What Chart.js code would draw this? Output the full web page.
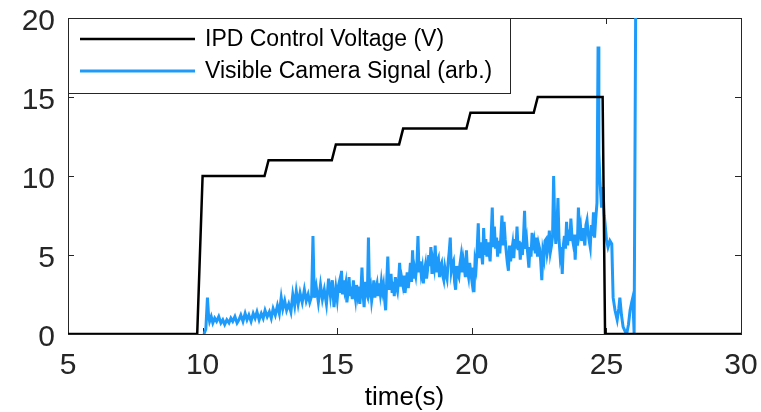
<!DOCTYPE html>
<html>
<head>
<meta charset="utf-8">
<script src="https://cdn.jsdelivr.net/npm/chart.js@4/dist/chart.umd.min.js"></script>
<style>
    html, body { margin: 0; padding: 0; background: #fff; }
    #wrap { width: 761px; height: 412px; }
</style>
</head>
<body>
<div id="wrap"><canvas id="pulse-chart" width="761" height="412"></canvas></div>
<script>
// IPD control voltage: step profile (time s, volts)
var voltageTime = [5, 9.8, 10.0, 12.3, 12.45, 14.8, 14.95, 17.3, 17.45, 19.8, 19.95, 22.3, 22.45, 24.86, 24.95, 30];
var voltageValue = [0, 0, 10, 10, 11, 11, 12, 12, 13, 13, 14, 14, 15, 15, 0, 0];

// visible camera signal (time s, arb.)
var signalTime = [
    10.05, 10.12, 10.18, 10.22, 10.26, 10.32, 10.38, 10.45, 10.52, 10.6, 10.68, 10.75, 10.82, 10.9, 10.98,
    11.05, 11.12, 11.2, 11.28, 11.35, 11.42, 11.5, 11.58, 11.65, 11.72, 11.8, 11.88, 11.95,
    12.02, 12.1, 12.18, 12.25, 12.32, 12.4, 12.48, 12.55, 12.62, 12.7, 12.78, 12.85, 12.92, 12.98,
    13.05, 13.12, 13.2, 13.28, 13.35, 13.42, 13.48, 13.55, 13.62, 13.7, 13.78, 13.85, 13.92, 13.98,
    14.05, 14.1, 14.15, 14.22, 14.3, 14.38, 14.45, 14.52, 14.6, 14.68, 14.75, 14.82, 14.88, 14.95,
    15.00, 15.04, 15.08, 15.12, 15.16, 15.20, 15.24, 15.28, 15.32, 15.36,
    15.40, 15.44, 15.48, 15.52, 15.56, 15.60, 15.64, 15.68, 15.72, 15.76,
    15.80, 15.84, 15.88, 15.92, 15.96, 16.00, 16.04, 16.08, 16.12, 16.16,
    16.20, 16.24, 16.28, 16.32, 16.36, 16.40, 16.44, 16.48, 16.52, 16.56,
    16.60, 16.64, 16.68, 16.72, 16.76, 16.80, 16.84, 16.88, 16.92, 16.96,
    17.00, 17.04, 17.08, 17.12, 17.16, 17.20, 17.24, 17.28, 17.32, 17.36,
    17.40, 17.44, 17.48, 17.52, 17.56, 17.60, 17.64, 17.68, 17.72, 17.76,
    17.80, 17.84, 17.88, 17.92, 17.96, 18.00, 18.04, 18.08, 18.12, 18.16,
    18.20, 18.24, 18.28, 18.32, 18.36, 18.40, 18.44, 18.48, 18.52, 18.56,
    18.60, 18.64, 18.68, 18.72, 18.76, 18.80, 18.84, 18.88, 18.92, 18.96,
    19.00, 19.04, 19.08, 19.12, 19.16, 19.20, 19.24, 19.28, 19.32, 19.36,
    19.40, 19.44, 19.48, 19.52, 19.56, 19.60, 19.64, 19.68, 19.72, 19.76,
    19.80, 19.84, 19.88, 19.92, 19.96, 20.00, 20.04, 20.08, 20.12, 20.16,
    20.20, 20.24, 20.28, 20.32, 20.36, 20.40, 20.44, 20.48, 20.52, 20.56,
    20.60, 20.64, 20.68, 20.72, 20.76, 20.80, 20.84, 20.88, 20.92, 20.96,
    21.00, 21.04, 21.08, 21.12, 21.16, 21.20, 21.24, 21.28, 21.32, 21.36,
    21.40, 21.44, 21.48, 21.52, 21.56, 21.60, 21.64, 21.68, 21.72, 21.76,
    21.80, 21.84, 21.88, 21.92, 21.96, 22.00, 22.04, 22.08, 22.12, 22.16,
    22.20, 22.24, 22.28, 22.32, 22.36, 22.40, 22.44, 22.48, 22.52, 22.56,
    22.60, 22.64, 22.68, 22.72, 22.76, 22.80, 22.84, 22.88, 22.92, 22.96,
    23.00, 23.04, 23.08, 23.12, 23.16, 23.20, 23.24, 23.28, 23.32, 23.36,
    23.40, 23.44, 23.48, 23.52, 23.56, 23.60, 23.64, 23.68, 23.72, 23.76,
    23.80, 23.84, 23.88, 23.92, 23.96, 24.00, 24.04, 24.08, 24.12, 24.16,
    24.20, 24.24, 24.28, 24.32, 24.36, 24.40, 24.44, 24.48, 24.52, 24.56,
    24.6, 24.65, 24.69, 24.72, 24.76, 24.82, 24.87, 24.92, 24.95,
    25.0, 25.06, 25.13, 25.2, 25.25, 25.32, 25.4, 25.46, 25.5, 25.56, 25.62, 25.7, 25.76, 25.82, 25.88, 25.94, 25.98,
    26.03, 26.1
];
var signalValue = [
    0, 0.3, 2.3, 1.2, 0.8, 1.1, 0.7, 1.0, 0.8, 1.1, 0.7, 0.9, 0.6, 0.9, 0.7,
    1.0, 0.8, 1.1, 0.7, 0.9, 1.2, 0.8, 1.3, 0.9, 1.2, 0.8, 1.3, 1.0,
    1.4, 0.9, 1.3, 1.0, 1.5, 1.1, 1.4, 1.0, 1.6, 1.2, 1.8, 1.3, 2.3, 1.6,
    2.1, 1.5, 1.9, 1.4, 2.5, 1.8, 2.7, 1.9, 2.6, 2.0, 2.8, 2.1, 2.5, 2.0,
    2.4, 6.2, 2.3, 3.0, 2.0, 3.1, 2.2, 2.8, 1.9, 3.5, 2.4, 3.4, 1.7, 2.9,
    2.2, 3.0, 3.3, 2.6, 4.0, 2.5, 3.4, 2.8, 3.2, 2.0,
    2.6, 3.6, 2.4, 3.0, 2.2, 3.4, 2.7, 2.2, 3.1, 2.5,
    3.0, 1.9, 2.7, 4.2, 2.5, 1.7, 3.3, 2.6, 2.4, 6.1,
    2.7, 3.0, 2.1, 2.6, 3.4, 2.3, 2.9, 3.2, 2.4, 3.2,
    2.6, 3.3, 2.7, 3.1, 2.2, 1.5, 3.4, 4.9, 2.8, 3.3,
    3.8, 2.6, 3.3, 2.4, 3.6, 3.0, 2.7, 3.4, 4.5, 3.0,
    3.5, 3.1, 3.7, 2.6, 3.2, 3.9, 2.9, 3.6, 4.5, 3.3,
    5.3, 3.5, 4.1, 3.7, 4.4, 6.2, 3.9, 4.6, 3.8, 4.2,
    3.2, 4.0, 4.4, 3.5, 4.1, 5.0, 4.3, 5.5, 3.8, 4.6,
    4.2, 5.6, 3.9, 4.6, 4.8, 3.6, 4.3, 4.5, 3.7, 3.4,
    4.2, 3.8, 3.5, 4.5, 5.2, 6.1, 4.0, 4.4, 4.6, 3.3,
    2.8, 4.3, 3.8, 3.6, 4.4, 4.9, 3.9, 4.7, 4.2, 3.6,
    5.3, 4.0, 3.6, 4.5, 3.9, 3.4, 4.2, 2.65, 4.6, 4.2,
    5.4, 7.0, 4.8, 5.8, 5.2, 4.4, 6.7, 5.0, 6.0, 4.9,
    5.8, 5.2, 4.6, 6.2, 8.0, 5.5, 6.8, 5.4, 6.1, 4.9,
    5.9, 5.1, 6.2, 7.5, 5.6, 7.1, 6.0, 5.2, 4.5, 4.0,
    5.6, 4.6, 5.2, 5.7, 4.8, 6.0, 5.4, 6.8, 5.3, 5.9,
    4.7, 5.8, 5.0, 6.1, 7.8, 5.4, 5.9, 5.0, 4.2, 5.5,
    4.9, 6.4, 5.3, 5.8, 5.1, 6.1, 4.9, 5.7, 5.4, 4.6,
    3.4, 5.2, 4.8, 5.9, 6.0, 5.1, 5.5, 6.55, 5.2, 5.6,
    6.2, 10.0, 7.0, 5.7, 6.6, 8.6, 6.0, 5.0, 5.5, 3.8,
    5.6, 6.2, 5.4, 7.1, 5.6, 6.6, 5.9, 7.3, 6.2, 5.8,
    6.3, 4.7, 6.3, 5.6, 8.0, 6.4, 6.8, 5.9, 6.7, 6.1,
    5.6, 6.9, 7.2, 6.4, 5.9, 5.5, 6.9, 6.2, 7.7, 6.1,
    7.2, 8.3, 18.2, 11.5, 9.7, 8.0, 9.3, 7.5, 7.0,
    6.0, 5.5, 5.9, 5.7, 2.3, 1.5, 0.9, 1.6, 2.3, 1.2, 0.45, 0.15, 0.05, 0.6, 1.5, 2.0, 2.3,
    0.05, 25
];

var xTicks = [5, 10, 15, 20, 25, 30];
var yTicks = [0, 5, 10, 15, 20];

var black = 'rgba(0, 0, 0, 1)';
var blue = 'rgba(30, 155, 250, 1)';
var axisColor = '#262626';
var fontFamily = '"Liberation Sans", Arial, sans-serif';

function toPoints(xs, ys) {
    return xs.map(function (x, i) {
        return {x: x, y: ys[i]};
    });
}

// box frame with inward tick marks, like the original figure
var framePlugin = {
    id: 'frame',
    beforeDatasetsDraw: function (chart) {
        var ctx = chart.ctx;
        var area = chart.chartArea;
        var xs = chart.scales.x;
        var ys = chart.scales.y;
        var len = 6;

        ctx.save();
        ctx.strokeStyle = axisColor;
        ctx.lineWidth = 1;
        ctx.strokeRect(area.left + 0.5, area.top + 0.5, area.right - area.left, area.bottom - area.top);
        ctx.beginPath();
        xTicks.forEach(function (t) {
            var px = Math.round(xs.getPixelForValue(t)) + 0.5;
            ctx.moveTo(px, area.bottom);
            ctx.lineTo(px, area.bottom - len);
            ctx.moveTo(px, area.top);
            ctx.lineTo(px, area.top + len);
        });
        yTicks.forEach(function (t) {
            var py = Math.round(ys.getPixelForValue(t)) + 0.5;
            ctx.moveTo(area.left, py);
            ctx.lineTo(area.left + len, py);
            ctx.moveTo(area.right, py);
            ctx.lineTo(area.right - len, py);
        });
        ctx.stroke();
        ctx.restore();
    }
};

// legend box drawn inside the plot, top left
var legendPlugin = {
    id: 'boxLegend',
    afterDraw: function (chart) {
        var ctx = chart.ctx;
        var area = chart.chartArea;
        var left = area.left;
        var top = area.top;
        var width = 442;
        var height = 75;
        var rows = [top + 21, top + 53];

        ctx.save();
        ctx.fillStyle = '#fff';
        ctx.fillRect(left, top, width, height);
        ctx.strokeStyle = axisColor;
        ctx.lineWidth = 1;
        ctx.strokeRect(left + 0.5, top + 0.5, width, height);

        ctx.font = '23px ' + fontFamily;
        ctx.textBaseline = 'middle';
        ctx.textAlign = 'left';
        chart.data.datasets.forEach(function (ds, i) {
            var y = rows[i];
            ctx.strokeStyle = ds.borderColor;
            ctx.lineWidth = ds.borderWidth;
            ctx.beginPath();
            ctx.moveTo(left + 12, y);
            ctx.lineTo(left + 127, y);
            ctx.stroke();
            ctx.fillStyle = '#000';
            ctx.fillText(ds.label, left + 137, y + 1);
        });
        ctx.restore();
    }
};

var chart = new Chart(document.getElementById('pulse-chart'), {
    type: 'line',
    data: {
        datasets: [
            {
                label: 'IPD Control Voltage (V)',
                data: toPoints(voltageTime, voltageValue),
                borderColor: black,
                backgroundColor: black,
                borderWidth: 2.5,
                pointRadius: 0,
                tension: 0,
                fill: false
            },
            {
                label: 'Visible Camera Signal (arb.)',
                data: toPoints(signalTime, signalValue),
                borderColor: blue,
                backgroundColor: blue,
                borderWidth: 3,
                pointRadius: 0,
                tension: 0,
                fill: false
            }
        ]
    },
    options: {
        responsive: false,
        animation: false,
        events: [],
        layout: {padding: {top: 18, right: 20, left: 0, bottom: 0}},
        plugins: {
            legend: {display: false},
            tooltip: {enabled: false}
        },
        scales: {
            x: {
                type: 'linear',
                min: 5,
                max: 30,
                afterFit: function (scale) {
                    scale.height = 78;
                    scale.paddingLeft = 0;
                    scale.paddingRight = 0;
                },
                afterBuildTicks: function (scale) {
                    scale.ticks = xTicks.map(function (v) { return {value: v}; });
                },
                grid: {display: false, drawTicks: false},
                border: {display: false},
                ticks: {
                    padding: 14,
                    color: axisColor,
                    font: {family: fontFamily, size: 30},
                    maxRotation: 0
                },
                title: {
                    display: true,
                    text: 'time(s)',
                    color: '#000',
                    font: {family: fontFamily, size: 26, lineHeight: 1},
                    padding: {top: 0, bottom: 1}
                }
            },
            y: {
                type: 'linear',
                min: 0,
                max: 20,
                afterFit: function (scale) {
                    scale.width = 68;
                    scale.paddingTop = 0;
                    scale.paddingBottom = 0;
                },
                afterBuildTicks: function (scale) {
                    scale.ticks = yTicks.map(function (v) { return {value: v}; });
                },
                grid: {display: false, drawTicks: false},
                border: {display: false},
                ticks: {
                    padding: 13,
                    labelOffset: 4,
                    color: axisColor,
                    font: {family: fontFamily, size: 30}
                }
            }
        }
    },
    plugins: [framePlugin, legendPlugin]
});
</script>
</body>
</html>
